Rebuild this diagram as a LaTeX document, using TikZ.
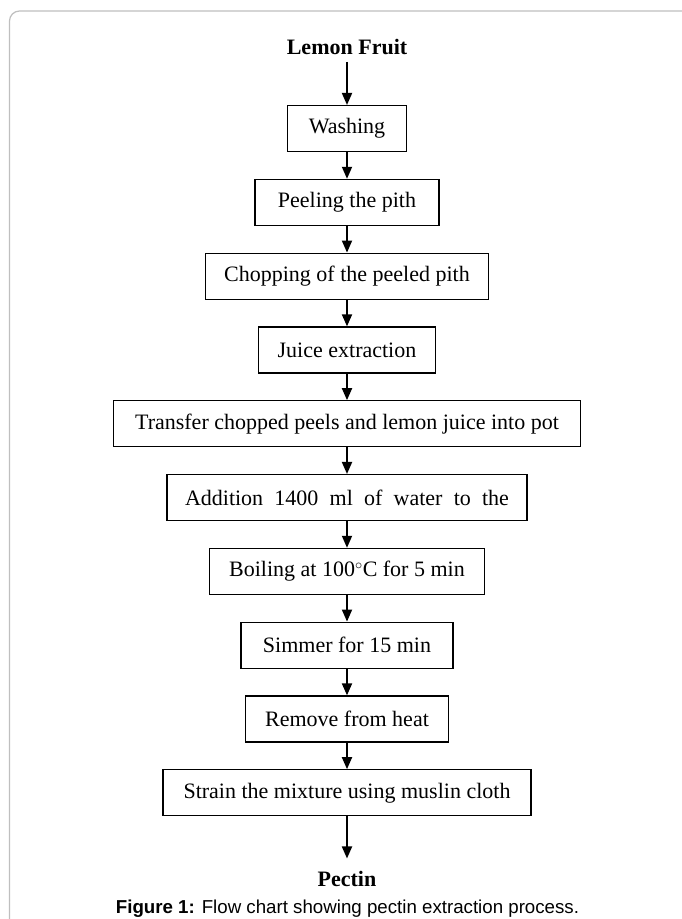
\documentclass[tikz,border=0pt]{standalone}
\usepackage{fontspec}
\setmainfont{Liberation Serif}
\newfontfamily\capfont{Liberation Sans}
\usetikzlibrary{positioning,arrows.meta}
\tikzstyle{stepbox}=[rectangle, draw=black, line width=1.3pt, minimum height=46pt, inner sep=2pt, text centered, font=\fontsize{22}{26}\selectfont]
\tikzstyle{endtext}=[inner sep=7pt, font=\fontsize{22}{26}\selectfont\bfseries]
\tikzstyle{pline}=[-{Triangle[length=12pt,width=10pt]}, line width=1.8pt]
\tikzstyle{frame}=[draw=gray!50, line width=1.2pt, rounded corners=10pt]

\begin{document}
\begin{tikzpicture}[x=1pt,y=1pt,node distance=26.5pt]
\useasboundingbox (0,0) rectangle (681,-919);
\draw[frame] (9.5,-940) -- (9.5,-11) -- (700,-11);
\node (FRUIT) [endtext] at (347,-47) {Lemon Fruit};
\node (WASH) [stepbox, minimum width=119pt, below=43pt of FRUIT] {Washing};
 \draw[pline] (FRUIT) -- (WASH);
\node (PEEL) [stepbox, minimum width=184pt, below=of WASH] {Peeling the pith};
 \draw[pline] (WASH) -- (PEEL);
\node (CHOP) [stepbox, minimum width=283pt, below=of PEEL] {Chopping of the peeled pith};
 \draw[pline] (PEEL) -- (CHOP);
\node (JUICE) [stepbox, minimum width=177pt, below=of CHOP] {Juice extraction};
 \draw[pline] (CHOP) -- (JUICE);
\node (POT) [stepbox, minimum width=467pt, below=of JUICE] {Transfer chopped peels and lemon juice into pot};
 \draw[pline] (JUICE) -- (POT);
\node (WATER) [stepbox, minimum width=360pt, below=of POT] {\makebox[324pt][s]{Addition 1400 ml of water to the}};
 \draw[pline] (POT) -- (WATER);
\node (BOIL) [stepbox, minimum width=275pt, below=of WATER] {Boiling at 100$^{\circ}$C for 5 min};
 \draw[pline] (WATER) -- (BOIL);
\node (SIMMER) [stepbox, minimum width=212pt, below=of BOIL] {Simmer for 15 min};
 \draw[pline] (BOIL) -- (SIMMER);
\node (HEAT) [stepbox, minimum width=203pt, below=of SIMMER] {Remove from heat};
 \draw[pline] (SIMMER) -- (HEAT);
\node (STRAIN) [stepbox, minimum width=368pt, below=of HEAT] {Strain the mixture using muslin cloth};
 \draw[pline] (HEAT) -- (STRAIN);
\node (PECT) [endtext, inner sep=13pt, below=42pt of STRAIN] {Pectin};
 \draw[pline] (STRAIN) -- (PECT);
\node (CAP) [inner sep=0pt, anchor=base, font=\capfont\fontsize{18.7}{22}\selectfont] at (347.5,-913) {\textbf{Figure 1:} Flow chart showing pectin extraction process.};
\end{tikzpicture}
\end{document}
